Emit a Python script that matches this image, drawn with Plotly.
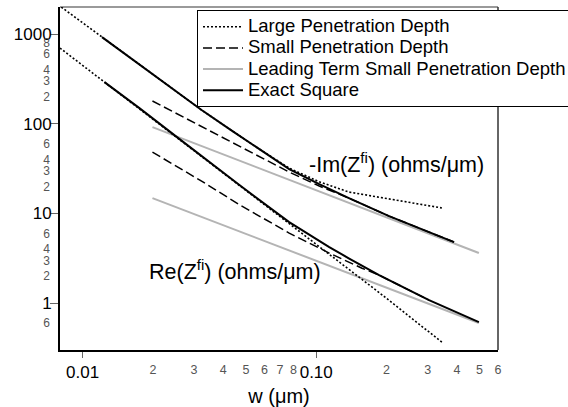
import math
import plotly.graph_objects as go

# ---- data ----
# -Im(Z) curves (upper group)
w_im_exact = [0.0121, 0.0207, 0.0323, 0.0438, 0.0571, 0.0766, 0.103, 0.138, 0.205, 0.304, 0.389]
im_exact = [923, 331, 142, 82.7, 52.1, 31.2, 21.2, 14.8, 9.33, 6.19, 4.79]

w_im_large = [0.0081, 0.0121, 0.0207, 0.0323, 0.0438, 0.0571, 0.0766, 0.103, 0.138, 0.205, 0.345]
im_large = [1995, 923, 331, 142, 82.7, 52.1, 32.0, 22.5, 17.3, 14.4, 11.5]

w_im_small = [0.0199, 0.0323, 0.0438, 0.0571, 0.0766, 0.103, 0.138, 0.205, 0.304, 0.389]
im_small = [179, 92.9, 61.4, 42.9, 28.9, 20.2, 14.8, 9.33, 6.19, 4.79]

w_im_lead = [0.0199, 0.0766, 0.497]
im_lead = [91.6, 23.6, 3.62]

# Re(Z) curves (lower group)
w_re_exact = [0.0124, 0.0175, 0.0260, 0.0469, 0.0766, 0.1137, 0.1384, 0.1858, 0.304, 0.497]
re_exact = [291, 149, 67.3, 20.7, 8.0, 4.21, 3.14, 2.05, 1.08, 0.614]

w_re_large = [0.0080, 0.0124, 0.0260, 0.0469, 0.0766, 0.1137, 0.186, 0.345]
re_large = [697, 290, 66, 20.3, 7.6, 3.43, 1.31, 0.367]

w_re_small = [0.0199, 0.0323, 0.0469, 0.0766, 0.1137, 0.157, 0.1858, 0.304]
re_small = [48.2, 22.9, 12.5, 6.03, 3.61, 2.45, 2.05, 1.08]

w_re_lead = [0.0199, 0.0766, 0.497]
re_lead = [14.8, 3.85, 0.60]

# axis ticks
x_major = [0.01, 0.1]
x_major_text = ["0.01", "0.10"]
x_minor = [0.02, 0.03, 0.04, 0.05, 0.06, 0.07, 0.08, 0.2, 0.3, 0.4, 0.5, 0.6]
x_minor_text = ["2", "3", "4", "5", "6", "7", "8", "2", "3", "4", "5", "6"]
y_major = [1, 10, 100, 1000]
y_major_text = ["1", "10", "100", "1000"]
y_minor = [800, 600, 400, 300, 200, 60, 40, 30, 20, 6, 4, 3, 2, 0.6]
y_minor_text = ["8", "6", "4", "3", "2", "6", "4", "3", "2", "6", "4", "3", "2", "6"]

names = ["Large Penetration Depth", "Small Penetration Depth",
         "Leading Term Small Penetration Depth", "Exact Square"]

FONT = "Arial, 'Liberation Sans', sans-serif"
styles = {
    names[0]: dict(color="black", width=1.6, dash="2px,2px"),
    names[1]: dict(color="black", width=1.5, dash="9px,4px"),
    names[2]: dict(color="#b4b4b4", width=2),
    names[3]: dict(color="black", width=2),
}
rank = {names[0]: 1, names[1]: 2, names[2]: 3, names[3]: 4}

fig = go.Figure()

def add(name, xs, ys, show):
    fig.add_trace(go.Scatter(
        x=xs, y=ys, mode="lines",
        name='<span style="font-size:18.5px">' + name + "</span>",
        legendgroup=name, showlegend=show, legendrank=rank[name],
        line=styles[name], hoverinfo="skip"))

# draw order: gray, dashed, dotted, solid
add(names[2], w_im_lead, im_lead, True)
add(names[2], w_re_lead, re_lead, False)
add(names[1], w_im_small, im_small, True)
add(names[1], w_re_small, re_small, False)
add(names[0], w_im_large, im_large, True)
add(names[0], w_re_large, re_large, False)
add(names[3], w_im_exact, im_exact, True)
add(names[3], w_re_exact, re_exact, False)

# invisible trace to activate the overlay axes carrying minor labels
fig.add_trace(go.Scatter(x=w_im_lead, y=im_lead, xaxis="x2", yaxis="y2",
                         mode="lines", line=dict(width=0), opacity=0,
                         showlegend=False, hoverinfo="skip"))

xr = [math.log10(0.008), math.log10(0.6)]
yr = [math.log10(0.3), math.log10(2000)]

fig.update_layout(
    width=568, height=407,
    margin=dict(l=60, r=70, t=7, b=57, autoexpand=False),
    paper_bgcolor="white", plot_bgcolor="white",
    font=dict(family=FONT, color="black"),
    xaxis=dict(type="log", range=xr, tickmode="array", tickvals=x_major,
               ticktext=x_major_text, ticks="outside", ticklen=6,
               tickcolor="#666", tickwidth=1, showgrid=False, zeroline=False,
               showline=True, linecolor="black", linewidth=2,
               tickfont=dict(size=17, color="black"),
               title=dict(text="w (μm)", font=dict(size=20), standoff=11)),
    yaxis=dict(type="log", range=yr, tickmode="array", tickvals=y_major,
               ticktext=y_major_text, ticks="", ticklabelstandoff=3,
               minor=dict(tickmode="array", tickvals=y_major, ticks="outside",
                          ticklen=8, tickcolor="#666", tickwidth=1, showgrid=False),
               showgrid=False, zeroline=False,
               showline=True, linecolor="black", linewidth=2,
               tickfont=dict(size=17, color="black")),
    xaxis2=dict(type="log", range=xr, overlaying="x", anchor="y", side="bottom",
                tickmode="array", tickvals=x_minor, ticktext=x_minor_text,
                ticks="", ticklabelstandoff=10, showgrid=False, zeroline=False,
                showline=False, tickfont=dict(size=12.5, color="#555")),
    yaxis2=dict(type="log", range=yr, overlaying="y", anchor="x", side="left",
                tickmode="array", tickvals=y_minor, ticktext=y_minor_text,
                ticks="", ticklabelstandoff=9, showgrid=False, zeroline=False,
                showline=False, tickfont=dict(size=12, color="#555")),
    legend=dict(x=0.3128, y=0.991, xanchor="left", yanchor="top",
                bgcolor="white", bordercolor="black", borderwidth=1,
                itemwidth=40,
                font=dict(size=14, family=FONT), tracegroupgap=0),
    showlegend=True,
)

fig.add_shape(type="line", xref="paper", yref="paper", x0=0, x1=1, y0=1, y1=1,
              line=dict(color="#9a9a9a", width=2), layer="below")
fig.add_shape(type="line", xref="paper", yref="paper", x0=1, x1=1, y0=0, y1=1,
              line=dict(color="#333", width=1.5))

fig.add_annotation(x=0.564, y=0.545, xref="paper", yref="paper",
                   xanchor="left", yanchor="middle", showarrow=False,
                   text="-Im(Z<sup>fi</sup>) (ohms/μm)", font=dict(size=21.5))
fig.add_annotation(x=0.1986, y=0.233, xref="paper", yref="paper",
                   xanchor="left", yanchor="middle", showarrow=False,
                   text="Re(Z<sup>fi</sup>) (ohms/μm)", font=dict(size=21.5))

fig.write_html("out.html")
